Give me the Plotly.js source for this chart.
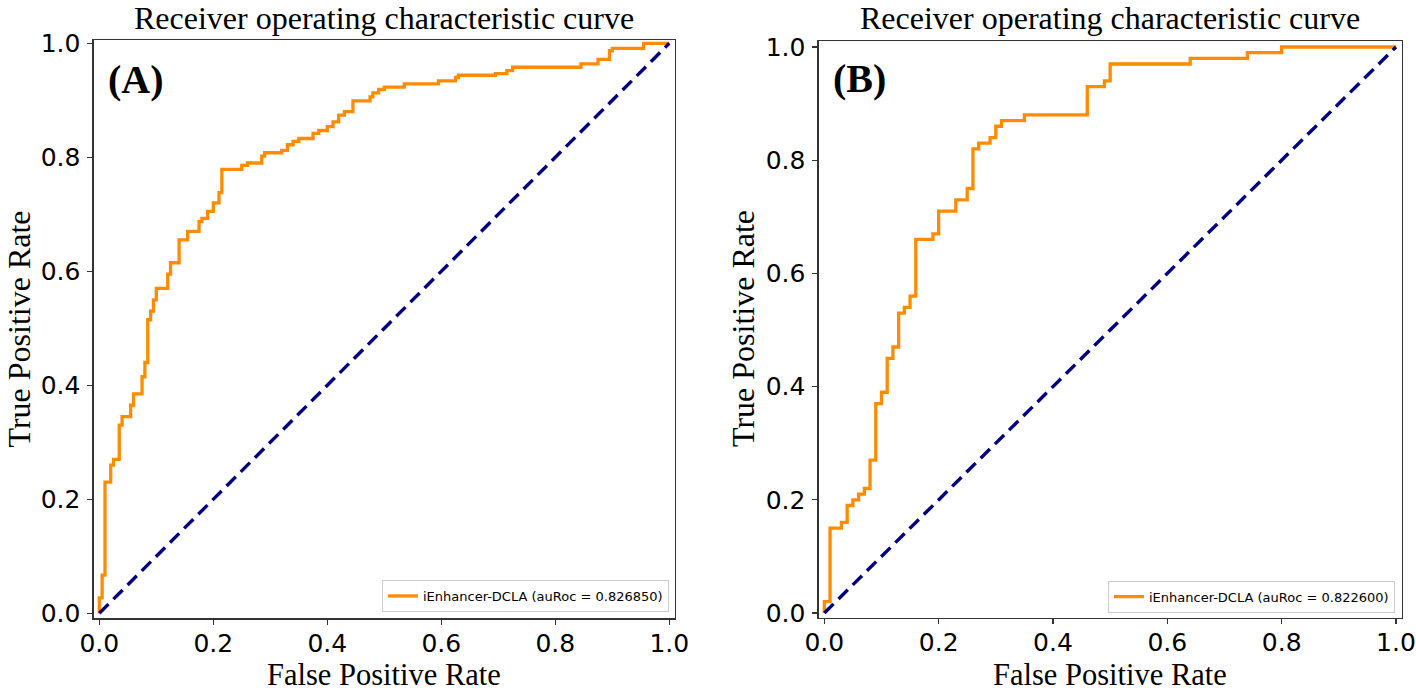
<!DOCTYPE html>
<html>
<head>
<meta charset="utf-8">
<script src="https://cdn.plot.ly/plotly-3.0.1.min.js"></script>
<style>
  html, body { margin: 0; padding: 0; background: #fff; }
  #chart { width: 1416px; height: 692px; }
</style>
</head>
<body>
<div id="chart"></div>
<script>
// ---- Data (step corner points: each point = top of a vertical jump) ----
const fprA = [0, 0, 0.005, 0.01, 0.02, 0.025, 0.035, 0.04, 0.055, 0.06, 0.075, 0.08, 0.085, 0.09, 0.095, 0.1, 0.12, 0.125, 0.14, 0.155, 0.175, 0.18, 0.19, 0.2, 0.21, 0.215, 0.25, 0.26, 0.285, 0.29, 0.32, 0.33, 0.34, 0.35, 0.375, 0.385, 0.4, 0.41, 0.42, 0.43, 0.445, 0.475, 0.48, 0.49, 0.5, 0.535, 0.595, 0.625, 0.63, 0.695, 0.715, 0.725, 0.845, 0.875, 0.895, 0.9, 0.955, 1.0];
const tprA = [0, 0.027, 0.067, 0.23, 0.26, 0.27, 0.33, 0.345, 0.365, 0.385, 0.415, 0.44, 0.515, 0.53, 0.55, 0.57, 0.595, 0.615, 0.655, 0.67, 0.687, 0.693, 0.705, 0.72, 0.738, 0.779, 0.786, 0.79, 0.802, 0.808, 0.812, 0.822, 0.828, 0.833, 0.842, 0.847, 0.854, 0.862, 0.874, 0.88, 0.899, 0.906, 0.913, 0.919, 0.923, 0.929, 0.934, 0.94, 0.944, 0.947, 0.952, 0.958, 0.964, 0.972, 0.987, 0.991, 1.0, 1.0];

const fprB = [0, 0, 0.01, 0.03, 0.04, 0.05, 0.06, 0.07, 0.08, 0.09, 0.1, 0.11, 0.12, 0.13, 0.14, 0.15, 0.16, 0.19, 0.2, 0.23, 0.25, 0.26, 0.27, 0.29, 0.3, 0.31, 0.35, 0.46, 0.49, 0.5, 0.64, 0.74, 0.8, 1.0];
const tprB = [0, 0.02, 0.15, 0.16, 0.19, 0.2, 0.21, 0.22, 0.27, 0.37, 0.39, 0.45, 0.47, 0.53, 0.54, 0.56, 0.66, 0.67, 0.71, 0.73, 0.75, 0.82, 0.83, 0.84, 0.86, 0.87, 0.88, 0.93, 0.94, 0.97, 0.98, 0.99, 1.0, 1.0];

const diagX = [0, 1];
const diagY = [0, 1];

const nameA = "iEnhancer-DCLA (auRoc = 0.826850)";
const nameB = "iEnhancer-DCLA (auRoc = 0.822600)";
const panelLabels = ["(A)", "(B)"];
const chartTitle = "Receiver operating characteristic curve";
const xTitle = "False Positive Rate";
const yTitle = "True Positive Rate";
const tickVals = [0, 0.2, 0.4, 0.6, 0.8, 1.0];
const tickText = ["0.0", "0.2", "0.4", "0.6", "0.8", "1.0"];

// ---- Layout helpers (pixel -> paper) ----
const W = 1416, H = 692;
const px = v => v / W;
const py = v => 1 - v / H;

const ORANGE = "#ff8c00";
const NAVY = "#000080";
const SERIF = "Liberation Serif, Times New Roman, serif";
const SANS = "DejaVu Sans, sans-serif";

const traces = [
  { x: fprA, y: tprA, type: "scatter", mode: "lines", line: { color: ORANGE, width: 3.3, shape: "hv" },
    name: nameA, xaxis: "x", yaxis: "y", legend: "legend", hoverinfo: "skip" },
  { x: diagX, y: diagY, type: "scatter", mode: "lines", line: { color: NAVY, width: 3.4, dash: "13px,7px" },
    showlegend: false, xaxis: "x", yaxis: "y", hoverinfo: "skip" },
  { x: fprB, y: tprB, type: "scatter", mode: "lines", line: { color: ORANGE, width: 3.3, shape: "hv" },
    name: nameB, xaxis: "x2", yaxis: "y2", legend: "legend2", hoverinfo: "skip" },
  { x: diagX, y: diagY, type: "scatter", mode: "lines", line: { color: NAVY, width: 3.4, dash: "13px,7px" },
    showlegend: false, xaxis: "x2", yaxis: "y2", hoverinfo: "skip" }
];

const axisBase = {
  showgrid: false, zeroline: false, showline: true, mirror: true,
  linecolor: "#333", linewidth: 1.2,
  ticks: "outside", ticklen: 5, tickwidth: 1.2, tickcolor: "#333",
  tickvals: tickVals, ticktext: tickText,
  tickfont: { family: SANS, size: 25, color: "#000" },
  fixedrange: true
};

const legendBase = {
  bgcolor: "#ffffff", bordercolor: "#cccccc", borderwidth: 1,
  font: { family: SANS, size: 13, color: "#000" },
  xanchor: "right", yanchor: "bottom", xref: "paper", yref: "paper"
};

const cxA = (93.6 + 675) / 2, cxB = (818.6 + 1401.7) / 2;

function note(text, x, y, size, extra) {
  return Object.assign({
    text: text, x: px(x), y: py(y), xref: "paper", yref: "paper",
    xanchor: "center", yanchor: "middle", showarrow: false, borderpad: 0,
    font: { family: SERIF, size: size, color: "#000" }
  }, extra || {});
}

const layout = {
  width: W, height: H,
  margin: { l: 0, r: 0, t: 0, b: 0 },
  paper_bgcolor: "#fff", plot_bgcolor: "#fff",
  xaxis: Object.assign({}, axisBase, { domain: [px(93.6), px(675)], range: [-0.01, 1.01], anchor: "y", ticklabelstandoff: -3 }),
  yaxis: Object.assign({}, axisBase, { domain: [py(618.4), py(39.9)], range: [-0.009, 1.006], anchor: "x", ticklabelstandoff: 2 }),
  xaxis2: Object.assign({}, axisBase, { domain: [px(818.6), px(1401.7)], range: [-0.01, 1.01], anchor: "y2", ticklabelstandoff: -3 }),
  yaxis2: Object.assign({}, axisBase, { domain: [py(618), py(41)], range: [-0.0088, 1.0106], anchor: "x2", ticklabelstandoff: 2 }),
  legend: Object.assign({}, legendBase, { x: px(669), y: py(612) }),
  legend2: Object.assign({}, legendBase, { x: px(1395), y: py(612.7) }),
  annotations: [
    note(chartTitle, cxA, 18.5, 32),
    note(chartTitle, cxB, 18.5, 32),
    note(xTitle, cxA, 675, 30.5),
    note(xTitle, cxB, 675, 30.5),
    note(yTitle, 18.5, 329, 32, { textangle: -90 }),
    note(yTitle, 743, 329, 32, { textangle: -90 }),
    note("<b>" + panelLabels[0] + "</b>", 136, 80, 40),
    note("<b>" + panelLabels[1] + "</b>", 859.5, 78, 40)
  ]
};

Plotly.newPlot("chart", traces, layout, { staticPlot: true, displayModeBar: false });
</script>
</body>
</html>
